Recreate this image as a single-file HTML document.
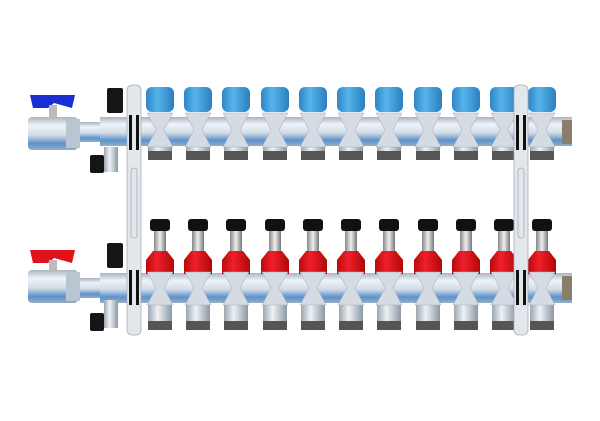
<!DOCTYPE html>
<html><head><meta charset="utf-8"><style>html,body{margin:0;padding:0;background:#fff}svg{display:block}</style></head><body>
<svg width="600" height="421" viewBox="0 0 600 421" xmlns="http://www.w3.org/2000/svg">
<defs>
<linearGradient id="pipe" x1="0" y1="0" x2="0" y2="1">
<stop offset="0" stop-color="#a8b4c0"/><stop offset="0.25" stop-color="#eef3f8"/><stop offset="0.55" stop-color="#d2dce6"/><stop offset="0.8" stop-color="#5b92cc"/><stop offset="1" stop-color="#98aec4"/></linearGradient>
<linearGradient id="blue" x1="0" y1="0" x2="1" y2="0">
<stop offset="0" stop-color="#2d86c9"/><stop offset="0.4" stop-color="#56b4ea"/><stop offset="1" stop-color="#2a7fc0"/></linearGradient>
<linearGradient id="red" x1="0" y1="0" x2="1" y2="0">
<stop offset="0" stop-color="#b80a0a"/><stop offset="0.4" stop-color="#f0202a"/><stop offset="1" stop-color="#b00808"/></linearGradient>
<linearGradient id="tail" x1="0" y1="0" x2="1" y2="0">
<stop offset="0" stop-color="#9aa6b0"/><stop offset="0.4" stop-color="#eef2f6"/><stop offset="1" stop-color="#8c98a4"/></linearGradient>
<linearGradient id="glass" x1="0" y1="0" x2="1" y2="0">
<stop offset="0" stop-color="#888"/><stop offset="0.5" stop-color="#eee"/><stop offset="1" stop-color="#777"/></linearGradient>
<g id="outTop">
<rect x="-14" y="87" width="28" height="25" rx="6" fill="url(#blue)"/>
<rect x="-12" y="147" width="24" height="5" fill="url(#tail)"/>
<rect x="-12" y="151" width="24" height="9" fill="#555"/>
<polygon points="-13,113 13,113 4,130 13,147 -13,147 -4,130" fill="#d4dbe2" stroke="#aab" stroke-width="0.5"/>
</g>
<g id="outBot">
<rect x="-10" y="219" width="20" height="12" rx="3" fill="#111"/>
<rect x="-6" y="231" width="12" height="21" fill="url(#glass)"/>
<path d="M-7 251 L7 251 L14 260 L14 274 L-14 274 L-14 260 Z" fill="url(#red)"/>
<rect x="-12" y="303" width="24" height="18" fill="url(#tail)"/>
<rect x="-12" y="321" width="24" height="9" fill="#555"/>
<polygon points="-13,272 13,272 4,288 13,305 -13,305 -4,288" fill="#d4dbe2" stroke="#aab" stroke-width="0.5"/>
</g>
</defs>
<!-- top pipe -->
<rect x="78" y="122" width="30" height="20" fill="url(#pipe)"/>
<rect x="100" y="117" width="472" height="29" fill="url(#pipe)"/>
<rect x="562" y="120" width="10" height="24" fill="#8a7d6a"/>
<!-- bottom pipe -->
<rect x="78" y="278" width="30" height="20" fill="url(#pipe)"/>
<rect x="100" y="273" width="472" height="30" fill="url(#pipe)"/>
<rect x="562" y="276" width="10" height="24" fill="#8a7d6a"/>
<!-- ball valves -->
<rect x="28" y="117" width="50" height="33" rx="4" fill="url(#pipe)"/>
<rect x="66" y="119" width="14" height="29" fill="#b9c6d2"/>
<path d="M30 95 L75 95 L72 108 L54 103 L48 108 L33 108 Z" fill="#1a2fd0"/>
<rect x="49" y="105" width="8" height="12" fill="#bbb"/>
<rect x="28" y="270" width="50" height="33" rx="4" fill="url(#pipe)"/>
<rect x="66" y="272" width="14" height="29" fill="#b9c6d2"/>
<path d="M30 250 L75 250 L72 263 L54 258 L48 263 L33 263 Z" fill="#e0121a"/>
<rect x="49" y="260" width="8" height="12" fill="#bbb"/>
<!-- vents -->
<rect x="107" y="88" width="16" height="25" rx="2" fill="#151515"/>
<rect x="107" y="243" width="16" height="25" rx="2" fill="#151515"/>
<!-- drains -->
<rect x="104" y="147" width="14" height="25" fill="url(#tail)"/>
<rect x="90" y="155" width="14" height="18" rx="2" fill="#151515"/>
<rect x="104" y="300" width="14" height="28" fill="url(#tail)"/>
<rect x="90" y="313" width="14" height="18" rx="2" fill="#151515"/>
<g>
<use href="#outTop" x="160"/><use href="#outTop" x="198"/><use href="#outTop" x="236"/><use href="#outTop" x="275"/><use href="#outTop" x="313"/><use href="#outTop" x="351"/><use href="#outTop" x="389"/><use href="#outTop" x="428"/><use href="#outTop" x="466"/><use href="#outTop" x="504"/><use href="#outTop" x="542"/>
<use href="#outBot" x="160"/><use href="#outBot" x="198"/><use href="#outBot" x="236"/><use href="#outBot" x="275"/><use href="#outBot" x="313"/><use href="#outBot" x="351"/><use href="#outBot" x="389"/><use href="#outBot" x="428"/><use href="#outBot" x="466"/><use href="#outBot" x="504"/><use href="#outBot" x="542"/>
</g>
<!-- brackets -->
<rect x="127" y="85" width="14" height="250" rx="5" fill="#e2e7eb" stroke="#aab" stroke-width="0.8"/>
<rect x="514" y="85" width="14" height="250" rx="5" fill="#e2e7eb" stroke="#aab" stroke-width="0.8"/>
<rect x="131" y="168" width="6" height="70" rx="3" fill="none" stroke="#aab" stroke-width="0.8"/>
<rect x="518" y="168" width="6" height="70" rx="3" fill="none" stroke="#aab" stroke-width="0.8"/>
<!-- clips -->
<rect x="129" y="115" width="3" height="35" fill="#111"/><rect x="136" y="115" width="3" height="35" fill="#111"/>
<rect x="129" y="270" width="3" height="35" fill="#111"/><rect x="136" y="270" width="3" height="35" fill="#111"/>
<rect x="516" y="115" width="3" height="35" fill="#111"/><rect x="523" y="115" width="3" height="35" fill="#111"/>
<rect x="516" y="270" width="3" height="35" fill="#111"/><rect x="523" y="270" width="3" height="35" fill="#111"/>
</svg>
</body></html>
